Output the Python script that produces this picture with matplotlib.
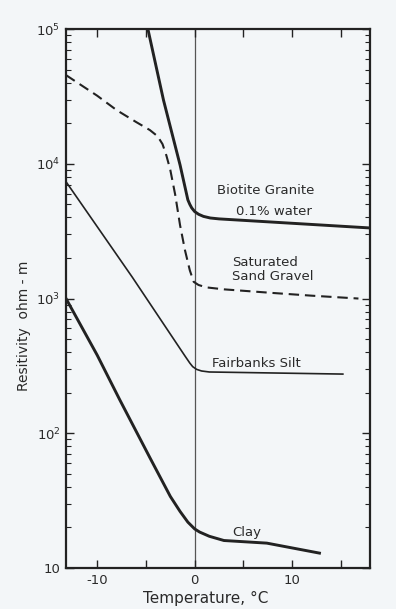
import matplotlib
matplotlib.use("Agg")
import matplotlib.pyplot as plt
from matplotlib.ticker import LogLocator, FixedLocator, FuncFormatter, NullFormatter
import numpy as np

# temperature (deg C) / resistivity (ohm-m) pairs for each material
granite_t = [-4.8, -3.2, -1.5, -0.7, -0.5, -0.3, 0.0, 0.4, 0.9, 1.6, 2.5, 18.0]
granite_r = [1.0e5, 2.97e4, 9800, 5400, 5000, 4700, 4420, 4220, 4070, 3960, 3900, 3340]

gravel_t = [-13.2, -10.0, -8.0, -6.0, -4.6, -3.8, -3.3, -2.9, -2.5, -2.0, -1.5, -1.0,
            -0.5, -0.1, 0.4, 1.2, 3.0, 8.0, 12.0, 16.8]
gravel_r = [45500, 32000, 25000, 20400, 17800, 16000, 14000, 11500, 9000, 5900, 3500, 2290,
            1620, 1330, 1260, 1210, 1170, 1100, 1050, 1000]

silt_t = [-13.2, -6.4, -1.0, -0.5, -0.2, 0.2, 0.7, 1.5, 15.2]
silt_r = [7360, 1440, 375, 332, 312, 298, 290, 285, 275]

clay_t = [-13.2, -10.0, -7.7, -4.6, -2.5, -1.5, -0.7, 0.0, 0.5, 1.5, 3.0, 7.4, 12.8]
clay_r = [1000, 380, 178, 66, 34, 26.3, 21.9, 19.5, 18.5, 17.2, 16.0, 15.3, 12.9]

x_labelled = [-10, 0, 10]

bg = "#f3f6f8"
ink = "#222222"
txt = "#2a2a2a"

fig = plt.figure(figsize=(3.96, 6.09), dpi=100, facecolor=bg)
ax = fig.add_axes([0.1667, 0.0673, 0.768, 0.885])
ax.set_facecolor(bg)

ax.set_yscale("log")
ax.set_xlim(-13.2, 18.0)
ax.set_ylim(10, 1e5)

ax.axvline(0, color="#555555", lw=0.9, zorder=1)

ax.plot(granite_t, granite_r, color=ink, lw=2.1, solid_joinstyle="round")
ax.plot(gravel_t, gravel_r, color=ink, lw=1.5, ls=(0, (5, 2.8)))
ax.plot(silt_t, silt_r, color=ink, lw=1.2)
ax.plot(clay_t, clay_r, color=ink, lw=2.1, solid_joinstyle="round")

fs = 9.5
ax.text(7.3, 6380, "Biotite Granite", ha="center", va="center", fontsize=fs, color=txt)
ax.text(8.1, 4390, "0.1% water", ha="center", va="center", fontsize=fs, color=txt)
ax.text(3.8, 1860, "Saturated", ha="left", va="center", fontsize=fs, color=txt)
ax.text(3.8, 1450, "Sand Gravel", ha="left", va="center", fontsize=fs, color=txt)
ax.text(1.75, 330, "Fairbanks Silt", ha="left", va="center", fontsize=fs, color=txt)
ax.text(5.3, 18.2, "Clay", ha="center", va="center", fontsize=fs, color=txt)

# axes frame and ticks
for s in ax.spines.values():
    s.set_color(ink)
    s.set_linewidth(1.6)

ax.xaxis.set_major_locator(FixedLocator([-10, -5, 0, 5, 10, 15]))
ax.xaxis.set_major_formatter(FuncFormatter(
    lambda v, p: ("%d" % v) if int(round(v)) in x_labelled else ""))
ax.yaxis.set_major_locator(LogLocator(base=10, numticks=10))
ax.yaxis.set_minor_locator(LogLocator(base=10, subs=np.arange(2, 10), numticks=10))
ax.yaxis.set_minor_formatter(NullFormatter())
ax.yaxis.set_major_formatter(FuncFormatter(
    lambda v, p: "10" if v < 15 else r"$10^{%d}$" % int(round(np.log10(v)))))

ax.tick_params(axis="both", which="major", direction="in", top=True, right=True,
               length=6, width=1.0, color=ink, labelcolor=txt, labelsize=9.5, pad=4)
ax.tick_params(axis="y", which="minor", direction="in", left=True, right=True,
               length=3.5, width=0.8, color=ink)

ax.set_xlabel("Temperature, °C", fontsize=11, color=txt)
ax.xaxis.set_label_coords(0.46, -0.043)
ax.set_ylabel("Resitivity  ohm - m", fontsize=10, color=txt)
ax.yaxis.set_label_coords(-0.115, 0.45)

fig.savefig("out.png", dpi=100, facecolor=bg)
